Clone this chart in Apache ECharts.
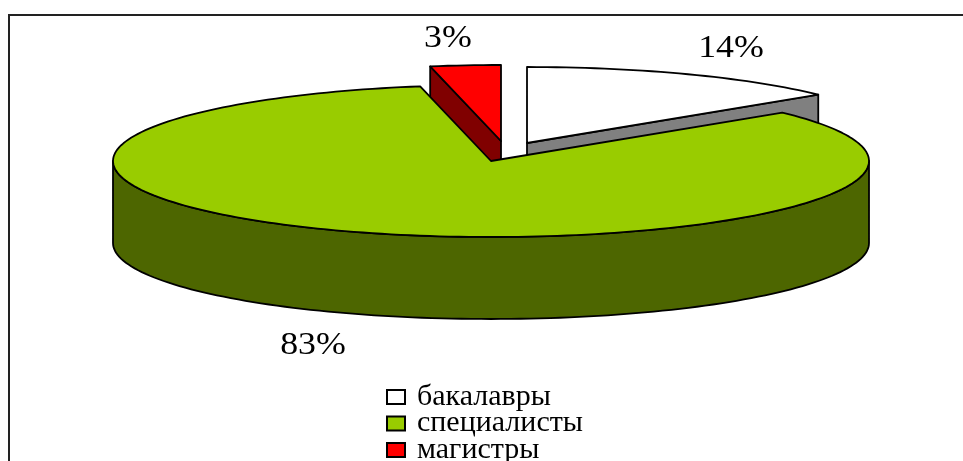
<!DOCTYPE html>
<html>
<head>
<meta charset="utf-8">
<style>html,body{margin:0;padding:0;background:#fff}#c{width:963px;height:461px}</style>
<script src="https://cdn.jsdelivr.net/npm/echarts@6/dist/echarts.min.js"></script>
</head>
<body>
<div id="c"></div>
<script>
var categories = ['бакалавры', 'специалисты', 'магистры'];
var values = [14, 83, 3];
var percentLabels = ['14%', '83%', '3%'];
var topColors = ['#FFFFFF', '#99CC00', '#FF0000'];
var sideColors = ['#808080', '#4D6600', '#800000'];

// layout of the tilted pie
var CX = 491, CY = 161, RX = 378, RY = 76, DEPTH = 82;
var explode = [[36, -18], [0, 0], [10, -20]];
var labelCenters = [[731, 49], [313, 346], [448, 39]];
var drawOrder = [1, 3, 2];
var FONT = '"Liberation Serif","Times New Roman",serif';

var total = values.reduce(function (a, b) { return a + b; }, 0);
function startDeg(i) {
  var s = 0;
  for (var k = 0; k < i; k++) s += values[k];
  return s / total * 360;
}
function rim(c, deg, dy) {
  var t = deg * Math.PI / 180;
  return [c[0] + RX * Math.sin(t), c[1] - RY * Math.cos(t) + (dy || 0)];
}
function arc(c, a, b, dy) {
  var pts = [], n = Math.max(2, Math.ceil(Math.abs(b - a) / 1.5));
  for (var i = 0; i <= n; i++) pts.push(rim(c, a + (b - a) * i / n, dy));
  return pts;
}
var S = { stroke: '#000', lineWidth: 1.8, lineJoin: 'round' };
function poly(points, fill) {
  return { type: 'polygon', shape: { points: points }, style: Object.assign({ fill: fill }, S) };
}

function renderSlice(params, api) {
  var i = params.seriesIndex;
  var v = api.value(0);
  var a = startDeg(i), b = a + v / total * 360;
  var c = [CX + explode[i][0], CY + explode[i][1]];
  var kids = [];
  // outer wall: the part of the rim facing the viewer
  var wa = Math.max(a, 90), wb = Math.min(b, 270);
  if (wb > wa) {
    var up = arc(c, wa, wb, 0), down = arc(c, wb, wa, DEPTH);
    kids.push(poly(up.concat(down), sideColors[i]));
  }
  // cut face visible when the slice is pulled out of the pie
  if (i !== 1) {
    var edge = i === 0 ? b : a;
    var p = rim(c, edge, 0);
    kids.push(poly([c, p, [p[0], p[1] + DEPTH], [c[0], c[1] + DEPTH]], sideColors[i]));
  }
  // top face
  kids.push(poly([c].concat(arc(c, a, b, 0)), topColors[i]));
  return { type: 'group', children: kids };
}

var series = categories.map(function (name, i) {
  return {
    type: 'custom', name: name, coordinateSystem: 'none', silent: true,
    z: drawOrder[i] + 2,
    animation: false,
    itemStyle: { color: topColors[i], borderColor: '#000', borderWidth: 1.5 },
    renderItem: renderSlice,
    data: [[values[i]]]
  };
});

var chart = echarts.init(document.getElementById('c'), null, { renderer: 'canvas' });
chart.setOption({
  animation: false,
  backgroundColor: '#fff',
  legend: {
    orient: 'vertical', left: 386, top: 382, height: 200, padding: 0,
    icon: 'rect', itemWidth: 18, itemHeight: 14, itemGap: -3.5,
    data: categories,
    selectedMode: false,
    textStyle: { fontFamily: FONT, fontSize: 30, color: '#000', padding: [0, 0, 0, 7] }
  },
  graphic: [
    { type: 'line', silent: true, z: 0, shape: { x1: 9, y1: 15, x2: 963, y2: 15 }, style: { stroke: '#222', lineWidth: 2 } },
    { type: 'line', silent: true, z: 0, shape: { x1: 9, y1: 14, x2: 9, y2: 461 }, style: { stroke: '#222', lineWidth: 2 } }
  ].concat(percentLabels.map(function (t, i) {
    return {
      type: 'text', silent: true, z: 20, x: labelCenters[i][0], y: labelCenters[i][1], scaleX: 1.12,
      style: { text: t, font: '32px ' + FONT, fill: '#000', align: 'center', verticalAlign: 'middle' }
    };
  })),
  series: series
});
</script>
</body>
</html>
